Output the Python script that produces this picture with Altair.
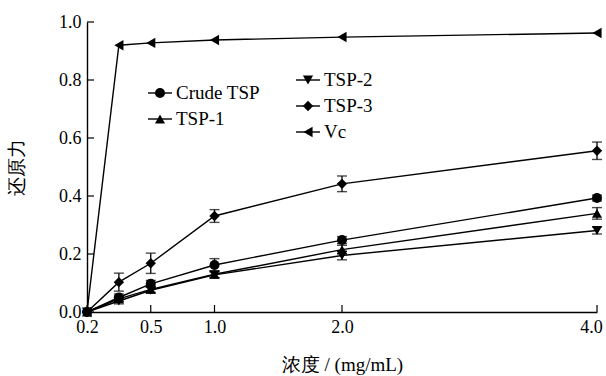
import altair as alt
import pandas as pd

# ---- data ----
conc = [0.0, 0.25, 0.5, 1.0, 2.0, 4.0]
series = ["Crude TSP", "TSP-1", "TSP-2", "TSP-3", "Vc"]
crude = [0.0, 0.050, 0.097, 0.162, 0.248, 0.393]
tsp1 = [0.0, 0.045, 0.078, 0.130, 0.215, 0.340]
tsp2 = [0.0, 0.038, 0.075, 0.128, 0.195, 0.281]
tsp3 = [0.0, 0.103, 0.168, 0.331, 0.442, 0.556]
vc = [0.0, 0.920, 0.928, 0.938, 0.948, 0.962]
crude_err = [0.0, 0.012, 0.012, 0.022, 0.012, 0.010]
tsp1_err = [0.0, 0.010, 0.010, 0.012, 0.015, 0.020]
tsp2_err = [0.0, 0.010, 0.010, 0.010, 0.015, 0.012]
tsp3_err = [0.0, 0.031, 0.035, 0.022, 0.027, 0.030]
vc_err = [0.0, 0.0, 0.0, 0.0, 0.0, 0.0]
x_ticks = [0.0, 0.5, 1.0, 2.0, 4.0]
y_ticks = [0.0, 0.2, 0.4, 0.6, 0.8, 1.0]

shapes = ["circle", "triangle-up", "triangle-down", "diamond", "triangle-left"]
sizes = [100, 110, 110, 120, 140]

values = [crude, tsp1, tsp2, tsp3, vc]
errs = [crude_err, tsp1_err, tsp2_err, tsp3_err, vc_err]
rows = []
for s, vals, es in zip(series, values, errs):
    for c, v, e in zip(conc, vals, es):
        rows.append({"series": s, "conc": c, "val": v, "lo": v - e, "hi": v + e, "err": e})
df = pd.DataFrame(rows)

FONT = "Times New Roman, Liberation Serif, serif"
W, H = 510, 290

xscale = alt.Scale(domain=[0, 4], nice=False, zero=False)
yscale = alt.Scale(domain=[0, 1], nice=False)

xaxis = alt.Axis(values=x_ticks, ticks=False, grid=False, labelFlush=False,
                 labelExpr="datum.value === 0 ? '0.2' : format(datum.value, '.1f')",
                 labelOffset={"condition": {"test": "datum.value === 4", "value": -6}, "value": 0},
                 title="浓度 / (mg/mL)", labelPadding=6, titlePadding=19)
yaxis = alt.Axis(values=y_ticks, ticks=False, grid=False, format=".1f", labelFlush=False,
                 title="还原力", labelPadding=6, titlePadding=32)

base = alt.Chart(df)
X = alt.X("conc:Q", scale=xscale, axis=xaxis)
Y = alt.Y("val:Q", scale=yscale, axis=yaxis)

lines = base.mark_line(color="black", strokeWidth=1.4).encode(x=X, y=Y, detail="series:N")

shape_enc = alt.Shape("series:N", scale=alt.Scale(domain=series, range=shapes), legend=None)
size_enc = alt.Size("series:N", scale=alt.Scale(domain=series, range=sizes), legend=None)

points = base.mark_point(filled=True, color="black", opacity=1).encode(
    x=X, y=Y, shape=shape_enc, size=size_enc)

ebase = base.transform_filter("datum.err > 0")
erule = ebase.mark_rule(color="black", strokeWidth=1.3).encode(
    x=alt.X("conc:Q", scale=xscale), y=alt.Y("lo:Q", scale=yscale), y2="hi:Q")
ecap_hi = ebase.mark_tick(color="black", orient="horizontal", size=10, thickness=1.4).encode(
    x=alt.X("conc:Q", scale=xscale), y=alt.Y("hi:Q", scale=yscale))
ecap_lo = ebase.mark_tick(color="black", orient="horizontal", size=10, thickness=1.4).encode(
    x=alt.X("conc:Q", scale=xscale), y=alt.Y("lo:Q", scale=yscale))

# inward ticks
ytick_df = pd.DataFrame({"v": y_ticks})
xtick_df = pd.DataFrame({"v": x_ticks})
yt = alt.Chart(ytick_df).mark_rule(color="black", strokeWidth=1.2).encode(
    y=alt.Y("v:Q", scale=yscale), x=alt.value(0), x2=alt.value(7))
xt = alt.Chart(xtick_df).mark_rule(color="black", strokeWidth=1.2).encode(
    x=alt.X("v:Q", scale=xscale), y=alt.value(H), y2=alt.value(H - 7))

# manual legend (layout positions in pixels)
leg_pos = {"Crude TSP": (73, 71), "TSP-1": (73, 97),
           "TSP-2": (221, 58), "TSP-3": (221, 84), "Vc": (221, 110)}
leg_df = pd.DataFrame([{"series": s, "px": leg_pos[s][0], "py": leg_pos[s][1],
                        "px1": leg_pos[s][0] - 12, "px2": leg_pos[s][0] + 12,
                        "tx": leg_pos[s][0] + 16} for s in series])
leg_line = alt.Chart(leg_df).mark_rule(color="black", strokeWidth=1.4).encode(
    x=alt.X("px1:Q", scale=None), x2="px2:Q", y=alt.Y("py:Q", scale=None))
leg_pt = alt.Chart(leg_df).mark_point(filled=True, color="black", opacity=1).encode(
    x=alt.X("px:Q", scale=None), y=alt.Y("py:Q", scale=None), shape=shape_enc, size=size_enc)
leg_txt = alt.Chart(leg_df).mark_text(align="left", baseline="middle", font=FONT,
                                      fontSize=19, color="black").encode(
    x=alt.X("tx:Q", scale=None), y=alt.Y("py:Q", scale=None), text="series:N")

chart = alt.layer(lines, erule, ecap_hi, ecap_lo, points, yt, xt,
                  leg_line, leg_pt, leg_txt).properties(
    width=W, height=H,
    autosize=alt.AutoSizeParams(type="none"),
    padding={"left": 87, "top": 22, "right": 9, "bottom": 64},
).configure_view(stroke=None).configure_axis(
    domainColor="black", domainWidth=1.4,
    labelFont=FONT, labelFontSize=18, labelColor="black",
    titleFont=FONT, titleFontSize=19, titleFontWeight="normal", titleColor="black",
).resolve_scale(shape="shared", size="shared")

chart.save("out.html", embed_options={"renderer": "svg", "actions": False})
